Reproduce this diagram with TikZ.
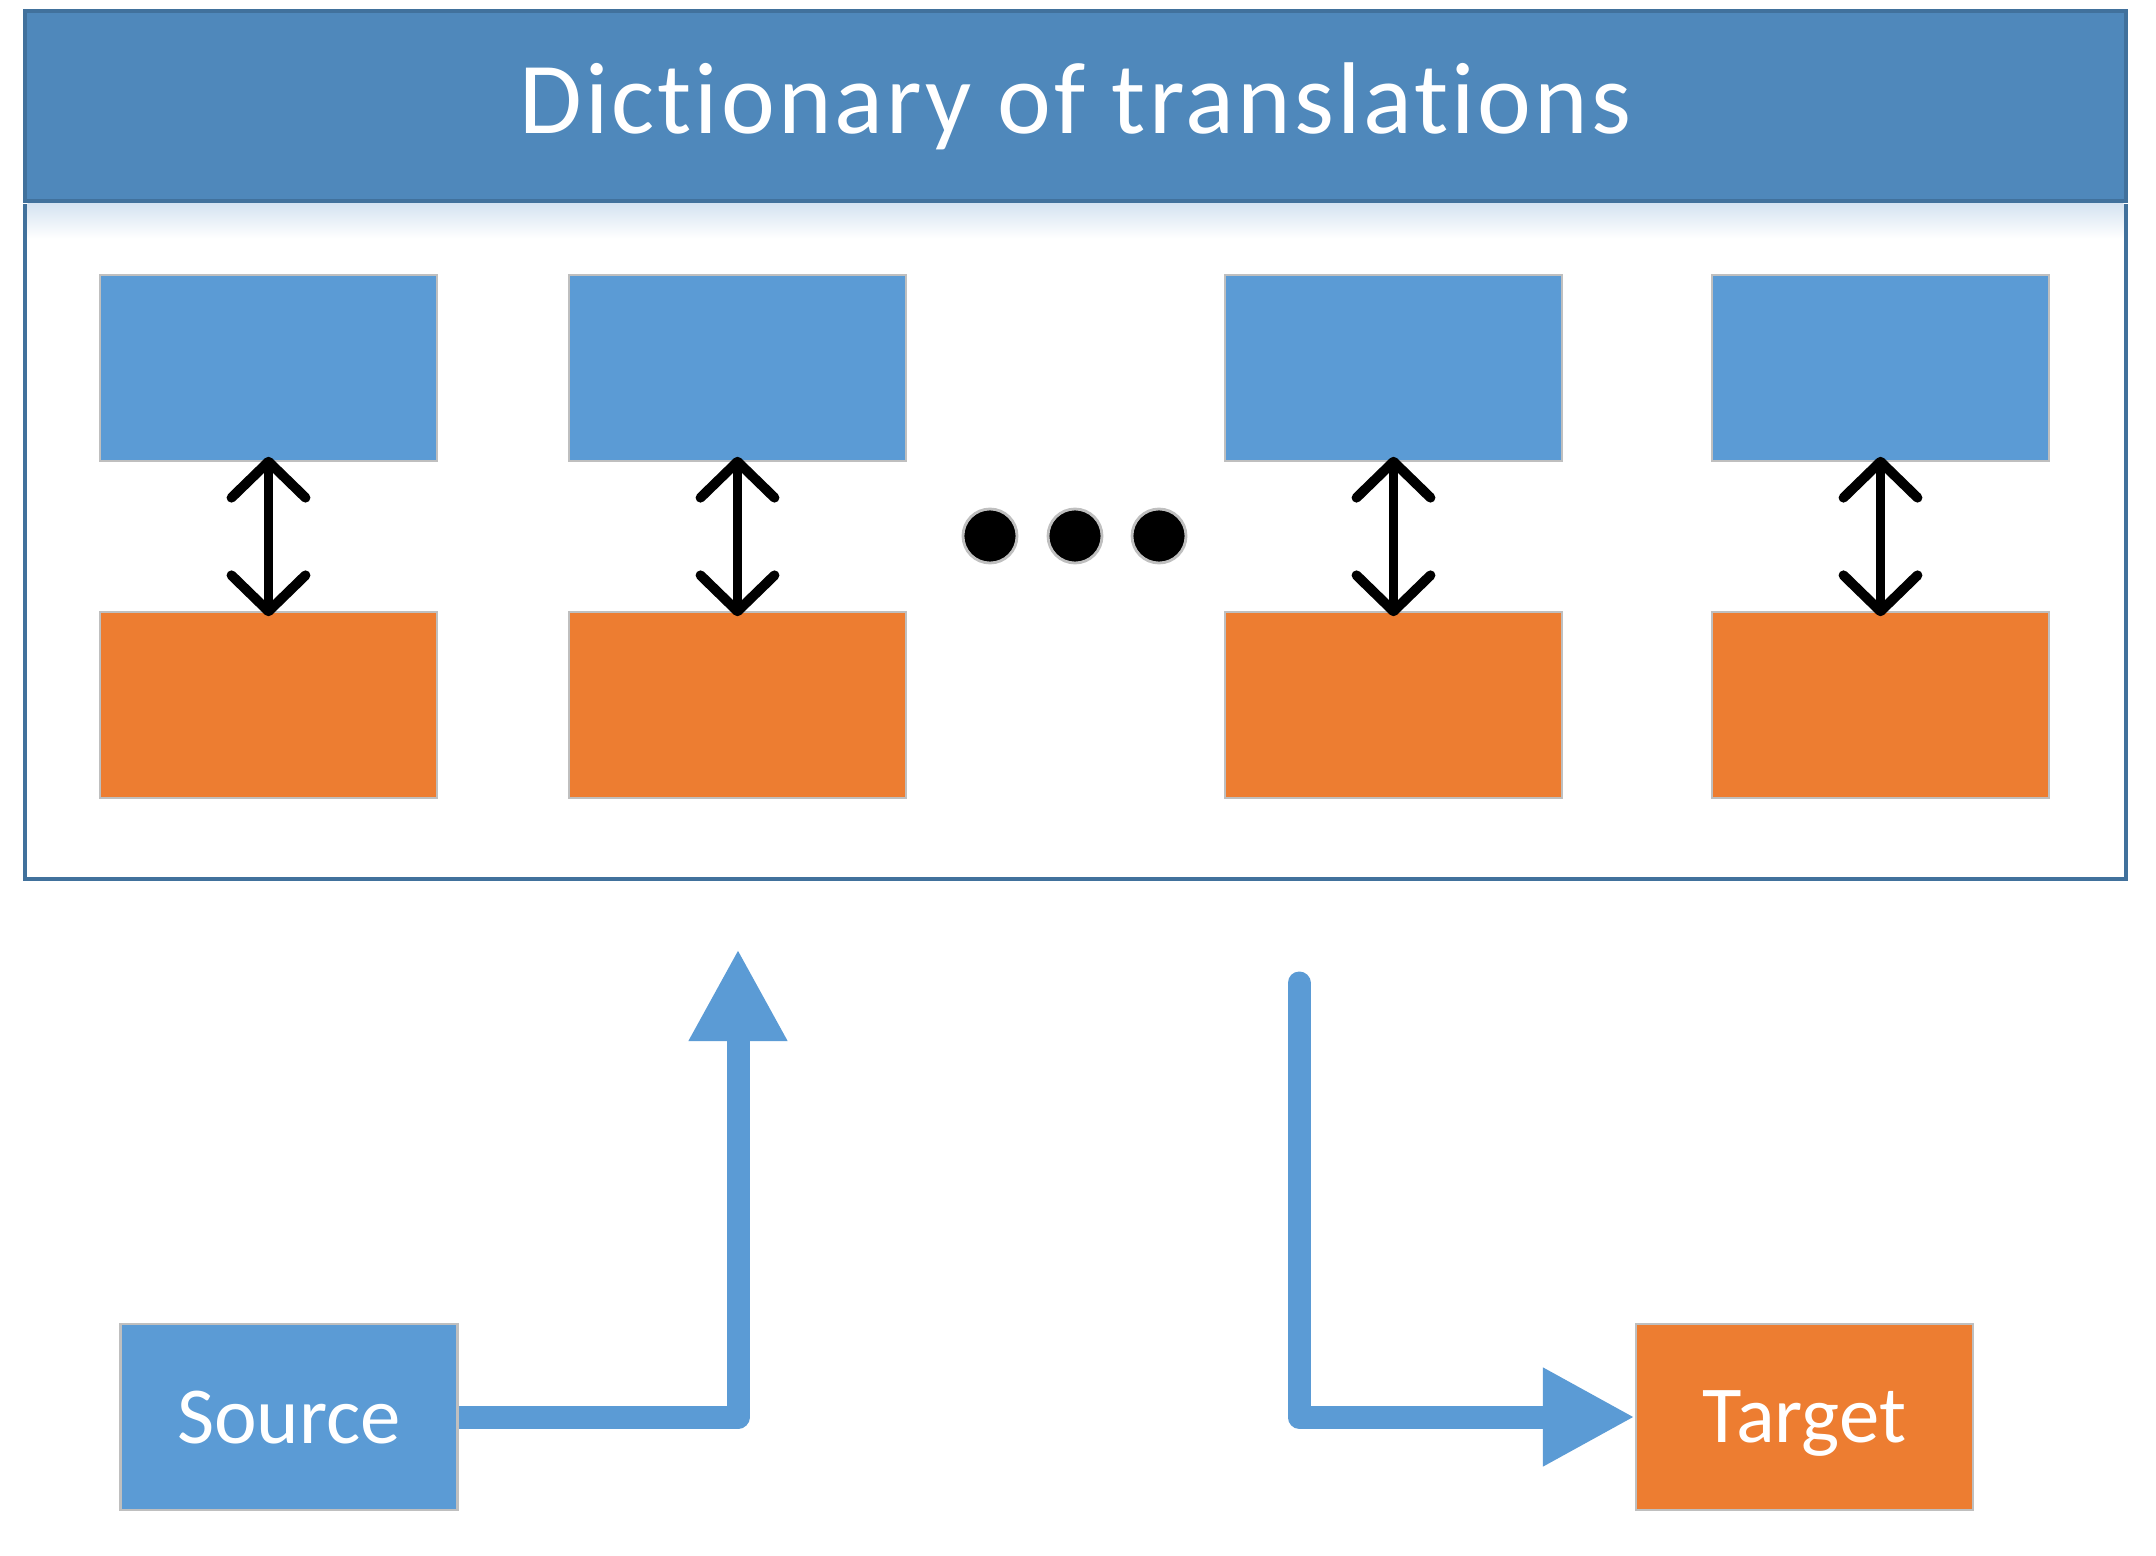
\documentclass[tikz,border=0pt]{standalone}
\usepackage{fontspec}
\setmainfont[Ligatures=NoCommon]{Carlito}
\newfontfamily\titlefont[Ligatures=NoCommon, LetterSpace=3]{Carlito}
\usetikzlibrary{arrows.meta}
\definecolor{hdr}{HTML}{4F88BB}
\definecolor{hdrline}{HTML}{41719C}
\definecolor{cblue}{HTML}{5B9BD5}
\definecolor{corange}{HTML}{ED7D31}
\definecolor{cgray}{HTML}{BFBFBF}
\definecolor{shadowblue}{HTML}{D5E3F1}
\begin{document}
\begin{tikzpicture}[
  box/.style={draw=cgray, line width=0.6pt, minimum width=3.37cm, minimum height=1.86cm, inner sep=0pt},
  bluebox/.style={box, fill=cblue},
  orangebox/.style={box, fill=corange},
  link/.style={line width=2.8pt, line cap=round, shorten <=-1.5pt, shorten >=-1.5pt, {Straight Barb[length=0.36cm, width=0.74cm, round]}-{Straight Barb[length=0.36cm, width=0.74cm, round]}},
  dotmark/.style={circle, fill=black, draw=cgray, line width=0.8pt, minimum size=0.54cm, inner sep=0pt},
  flow/.style={draw=cblue, line width=0.23cm, line join=round, -{Triangle[length=0.92cm, width=0.92cm]}},
  boxtext/.style={text=white, font=\fontsize{23}{28}\selectfont, text depth=0pt},
  frame/.style={draw=hdrline, line width=1.4pt, minimum width=21.01cm, inner sep=0pt}
]
\fill[white] (0,0) rectangle (21.56,-15.56);
\useasboundingbox (0,0) rectangle (21.56,-15.56);

\node[frame, fill=white, minimum height=6.73cm] (body) at (10.755,-5.425) {};
\shade[top color=shadowblue, bottom color=white] ([xshift=0.05cm]body.north west) rectangle ([xshift=-0.05cm, yshift=-0.35cm]body.north east);
\node[frame, fill=hdr, minimum height=1.90cm, text=white, font=\titlefont\fontsize{29}{35}\selectfont] (hdr) at (10.755,-1.06) {\raisebox{-2pt}{Dictionary of translations}};

\node[bluebox] (b1) at (2.685,-3.68) {};
\node[bluebox] (b2) at (7.375,-3.68) {};
\node[bluebox] (b3) at (13.935,-3.68) {};
\node[bluebox] (b4) at (18.805,-3.68) {};
\node[orangebox] (o1) at (2.685,-7.05) {};
\node[orangebox] (o2) at (7.375,-7.05) {};
\node[orangebox] (o3) at (13.935,-7.05) {};
\node[orangebox] (o4) at (18.805,-7.05) {};

\draw[link] (b1.south) -- (o1.north);
\draw[link] (b2.south) -- (o2.north);
\draw[link] (b3.south) -- (o3.north);
\draw[link] (b4.south) -- (o4.north);

\node[dotmark] (d1) at (9.90,-5.36) {};
\node[dotmark] (d2) at (10.75,-5.36) {};
\node[dotmark] (d3) at (11.59,-5.36) {};

\node[bluebox, boxtext] (src) at (2.89,-14.17) {Source};
\node[orangebox, boxtext] (tgt) at (18.045,-14.17) {Target};

\coordinate (srcTip) at (7.38,-9.49);
\coordinate (tgtStart) at (12.99,-9.83);
\draw[flow, line cap=butt] (src.east) -| (srcTip);
\draw[flow, line cap=round] (tgtStart) |- (tgt.west);
\end{tikzpicture}
\end{document}
